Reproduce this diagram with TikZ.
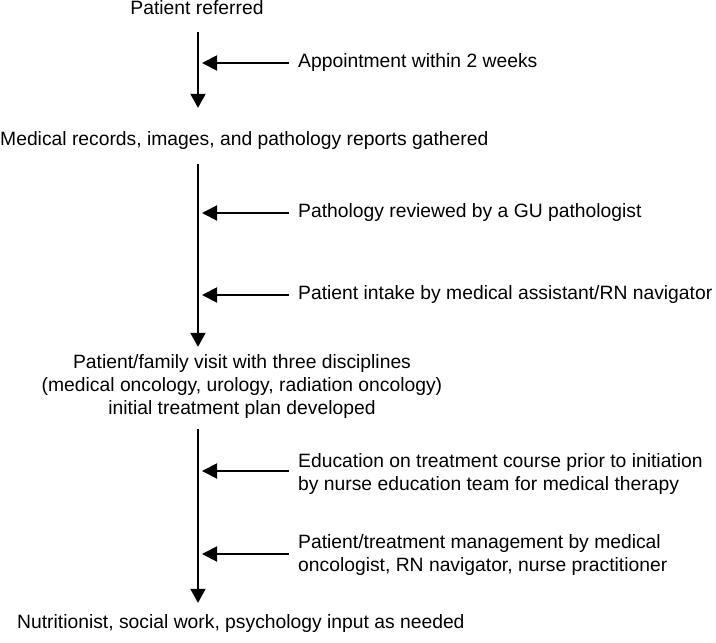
\documentclass[tikz,border=0pt]{standalone}
\usepackage{fontspec}
\setmainfont{Liberation Sans}
\usetikzlibrary{arrows.meta}

\tikzset{
    steptext/.style={font=\fontsize{19.3}{23}\selectfont, inner sep=0pt, align=center},
    sidetext/.style={font=\fontsize{19.3}{23.5}\selectfont, inner sep=0pt, anchor=west, align=left},
    mainarrow/.style={line width=1.9pt, -{Triangle[length=14pt,width=15pt]}},
    sidearrow/.style={line width=1.9pt, -{Triangle[length=15pt,width=15pt]}},
}

\begin{document}
\begin{tikzpicture}[x=1pt,y=-1pt]
    \useasboundingbox (0,0) rectangle (716,643);
    % steps of the pathway
    \node[steptext] (referred) at (197,8) {Patient referred};
    \node[steptext,anchor=west] (records) at (0,141) {Medical records, images, and pathology reports gathered};
    \node[steptext] (visit) at (242,387) {Patient/family visit with three disciplines\\(medical oncology, urology, radiation oncology)\\initial treatment plan developed};
    \node[steptext,anchor=west] (support) at (17,624) {Nutritionist, social work, psychology input as needed};
    % actions along the way
    \node[sidetext] (appt) at (298,63) {Appointment within 2 weeks};
    \node[sidetext] (review) at (298,213) {Pathology reviewed by a GU pathologist};
    \node[sidetext] (intake) at (298,295) {Patient intake by medical assistant/RN navigator};
    \node[sidetext] (educ) at (298,474) {Education on treatment course prior to initiation\\by nurse education team for medical therapy};
    \node[sidetext] (manage) at (298,555) {Patient/treatment management by medical\\oncologist, RN navigator, nurse practitioner};
    \coordinate (spine) at (198,0);
    \coordinate (tips) at (202,0);
    \draw[mainarrow,shorten <=17pt,shorten >=24pt] (spine |- referred.south) -- (spine |- records.north);
    \draw[mainarrow,shorten <=14pt,shorten >=8pt] (spine |- records.south) -- (spine |- visit.north);
    \draw[mainarrow,shorten <=10pt,shorten >=12pt] (spine |- visit.south) -- (spine |- support.north);
    \draw[sidearrow,shorten <=9pt] (appt.west) -- (appt.west -| tips);
    \draw[sidearrow,shorten <=9pt] (review.west) -- (review.west -| tips);
    \draw[sidearrow,shorten <=9pt] (intake.west) -- (intake.west -| tips);
    \draw[sidearrow,shorten <=9pt] ([yshift=3pt]educ.west) -- ([yshift=3pt]educ.west -| tips);
    \draw[sidearrow,shorten <=9pt] ([yshift=1pt]manage.west) -- ([yshift=1pt]manage.west -| tips);
\end{tikzpicture}
\end{document}
